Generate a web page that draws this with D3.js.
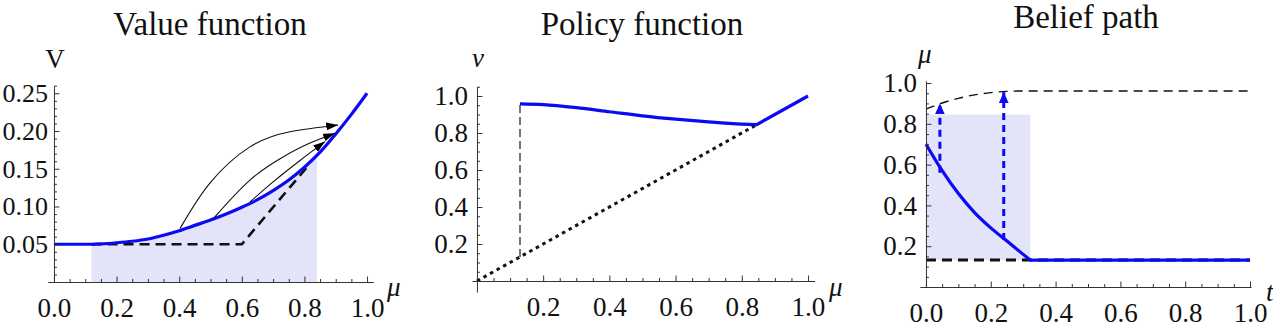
<!DOCTYPE html>
<html>
<head>
<meta charset="utf-8">
<script src="https://cdn.jsdelivr.net/npm/d3@7"></script>
<style>
  body { margin: 0; background: #fff; }
  svg { display: block; font-family: 'Liberation Serif', 'Times New Roman', serif; }
  .tick text { font-size: 27px; fill: #111; }
  .title { font-size: 33px; fill: #111; }
  .axis-label { font-size: 27px; fill: #111; }
</style>
</head>
<body>
<svg id="chart" width="1273" height="335"></svg>
<script>
// ---- Value function ----
const valueMu = [0, 0.1, 0.12, 0.15, 0.2, 0.25, 0.3, 0.35, 0.4, 0.45, 0.5, 0.55, 0.6, 0.65, 0.7, 0.75, 0.8, 0.85, 0.9, 0.95, 1.0];
const valueV = [0.05, 0.05, 0.05, 0.0505, 0.052, 0.054, 0.057, 0.062, 0.068, 0.075, 0.082, 0.090, 0.099, 0.109, 0.121, 0.135, 0.152, 0.172, 0.196, 0.222, 0.25];
const valueShade = [0.12, 0.84];
const valueDashMu = [0.12, 0.6, 0.81];
const valueDashV = [0.05, 0.05, 0.153];
// curved arrows, points read along each arc
const arrowArcs = [
  { mu: [0.403, 0.498, 0.626, 0.754, 0.908], v: [0.071, 0.131, 0.179, 0.199, 0.208] },
  { mu: [0.509, 0.626, 0.733, 0.818, 0.898], v: [0.084, 0.135, 0.166, 0.184, 0.197] },
  { mu: [0.626, 0.701, 0.786, 0.866], v: [0.106, 0.133, 0.161, 0.186] }
];

// ---- Policy function ----
const policyMu = [0.13, 0.2, 0.3, 0.4, 0.5, 0.6, 0.7, 0.8, 0.845, 1.0];
const policyNu = [0.957, 0.953, 0.937, 0.915, 0.893, 0.875, 0.86, 0.848, 0.845, 1.0];
const diagEnd = 0.845;
const cutoffMu = 0.13;

// ---- Belief path ----
const beliefT = [0, 0.05, 0.1, 0.15, 0.2, 0.25, 0.3, 0.322, 1.0];
const beliefMu = [0.70, 0.57, 0.458, 0.365, 0.29, 0.225, 0.16, 0.132, 0.132];
const upperT = [0, 0.05, 0.1, 0.15, 0.2, 0.25, 0.3, 1.0];
const upperMu = [0.872, 0.902, 0.925, 0.942, 0.953, 0.959, 0.961, 0.961];
const lowerMu = 0.132;
const beliefShadeT = [0, 0.322];
const beliefShadeMu = [0.132, 0.845];
const jumpT = [0.043, 0.24];
const jumpFrom = [0.56, 0.23];
const jumpTo = [0.90, 0.955];

const blue = '#0a0af5';
const shade = '#e3e3fa';

const svg = d3.select('#chart');

const defs = svg.append('defs');
const addHead = (id, color, w, h) => {
  defs.append('marker')
    .attr('id', id)
    .attr('viewBox', `0 0 ${w} ${h}`)
    .attr('refX', w)
    .attr('refY', h / 2)
    .attr('markerWidth', w)
    .attr('markerHeight', h)
    .attr('markerUnits', 'userSpaceOnUse')
    .attr('orient', 'auto')
    .append('path')
      .attr('d', `M0,0L${w},${h / 2}L0,${h}Z`)
      .attr('fill', color);
};
addHead('head-black', '#000', 12, 8);
addHead('head-blue', blue, 11, 10);

const range = (a, b, s) => d3.range(Math.round(a / s), Math.round(b / s) + 1).map(i => +(i * s).toFixed(4));

// Mathematica style axes: crossing at 0, ticks pointing inward
const drawAxes = (g, props) => {
  const { xScale, yScale, xMajor, xMinor, yMajor, yMinor, xFmt, yFmt, yPad } = props;
  const x0 = xScale(0);
  const y0 = yScale(0);

  const notMajor = (list, majors) => list.filter(d => !majors.some(m => Math.abs(m - d) < 1e-6));

  const xg = g.append('g').attr('class', 'x-axis')
    .attr('transform', `translate(0,${y0})`)
    .style('color', '#333');
  xg.append('g')
    .call(d3.axisBottom(xScale).tickValues(notMajor(xMinor, xMajor)).tickSize(-3).tickFormat(''))
    .select('.domain').remove();
  xg.append('g')
    .call(d3.axisBottom(xScale).tickValues(xMajor).tickSizeInner(-5.5).tickSizeOuter(0)
      .tickPadding(16).tickFormat(xFmt))
    .attr('font-family', null).attr('font-size', null);

  const yg = g.append('g').attr('class', 'y-axis')
    .attr('transform', `translate(${x0},0)`)
    .style('color', '#333');
  yg.append('g')
    .call(d3.axisLeft(yScale).tickValues(notMajor(yMinor, yMajor)).tickSize(-3).tickFormat(''))
    .select('.domain').remove();
  yg.append('g')
    .call(d3.axisLeft(yScale).tickValues(yMajor).tickSizeInner(-5.5).tickSizeOuter(0)
      .tickPadding(yPad || 9).tickFormat(yFmt))
    .attr('font-family', null).attr('font-size', null);
  return yg;
};

const lineOf = (xs, ys, xScale, yScale, curve) => d3.line()
  .x((d, i) => xScale(xs[i]))
  .y((d, i) => yScale(ys[i]))
  .curve(curve || d3.curveLinear)(xs);

const addTitle = (text, x, y) => svg.append('text')
  .attr('class', 'title')
  .attr('x', x).attr('y', y)
  .attr('text-anchor', 'middle')
  .text(text);

const addLabel = (text, x, y, italic, anchor) => svg.append('text')
  .attr('class', 'axis-label')
  .attr('x', x).attr('y', y)
  .attr('text-anchor', anchor || 'start')
  .style('font-style', italic ? 'italic' : 'normal')
  .text(text);

// ================= Panel 1: Value function =================
{
  const xScale = d3.scaleLinear().domain([-0.02, 1.02]).range([47.7, 373.3]);
  const yScale = d3.scaleLinear().domain([0, 0.26]).range([282, 85.7]);
  const g = svg.append('g');

  defs.append('clipPath').attr('id', 'shade-clip')
    .append('rect')
      .attr('x', xScale(valueShade[0]))
      .attr('y', 0)
      .attr('width', xScale(valueShade[1]) - xScale(valueShade[0]))
      .attr('height', 335);

  const area = d3.area()
    .x((d, i) => xScale(valueMu[i]))
    .y0(yScale(0))
    .y1((d, i) => yScale(valueV[i]))
    .curve(d3.curveMonotoneX);
  g.append('path')
    .attr('d', area(valueMu))
    .attr('fill', shade)
    .attr('clip-path', 'url(#shade-clip)');

  g.append('path')
    .attr('d', lineOf(valueDashMu, valueDashV, xScale, yScale))
    .attr('fill', 'none')
    .attr('stroke', '#111')
    .attr('stroke-width', 2.6)
    .attr('stroke-dasharray', '10,6');

  g.append('path')
    .attr('d', lineOf(valueMu, valueV, xScale, yScale, d3.curveMonotoneX))
    .attr('fill', 'none')
    .attr('stroke', blue)
    .attr('stroke-width', 3.2);

  g.selectAll('.arc').data(arrowArcs).enter()
    .append('path')
      .attr('class', 'arc')
      .attr('d', d => lineOf(d.mu, d.v, xScale, yScale, d3.curveNatural))
      .attr('fill', 'none')
      .attr('stroke', '#111')
      .attr('stroke-width', 1.1)
      .attr('marker-end', 'url(#head-black)');

  const yg = drawAxes(g, {
    xScale, yScale,
    xMajor: range(0, 1, 0.2), xMinor: range(0, 1, 0.05),
    yMajor: range(0.05, 0.25, 0.05), yMinor: range(0.01, 0.26, 0.01),
    xFmt: d3.format('.1f'), yFmt: d3.format('.2f'), yPad: 6
  });
  // the left column sits right at the page edge
  yg.selectAll('.tick text').style('font-size', '26px');

  addTitle('Value function', 210, 35);
  addLabel('V', 55, 68, false, 'middle');
  addLabel('μ', 387, 296, true);
}

// ================= Panel 2: Policy function =================
{
  const xScale = d3.scaleLinear().domain([-0.015, 1.02]).range([472, 814.6]);
  const yScale = d3.scaleLinear().domain([-0.06, 1.05]).range([292.1, 86.75]);
  const g = svg.append('g');

  g.append('path')
    .attr('d', lineOf([0, diagEnd], [0, diagEnd], xScale, yScale))
    .attr('fill', 'none')
    .attr('stroke', '#111')
    .attr('stroke-width', 3)
    .attr('stroke-dasharray', '3.5,4');

  g.append('path')
    .attr('d', lineOf([cutoffMu, cutoffMu], [cutoffMu, policyNu[0]], xScale, yScale))
    .attr('fill', 'none')
    .attr('stroke', '#777')
    .attr('stroke-width', 2)
    .attr('stroke-dasharray', '8,4');

  const n = policyMu.length;
  g.append('path')
    .attr('d', lineOf(policyMu.slice(0, n - 1), policyNu.slice(0, n - 1), xScale, yScale, d3.curveMonotoneX)
      + 'L' + xScale(policyMu[n - 1]) + ',' + yScale(policyNu[n - 1]))
    .attr('fill', 'none')
    .attr('stroke', blue)
    .attr('stroke-width', 3.2);

  drawAxes(g, {
    xScale, yScale,
    xMajor: range(0.2, 1, 0.2), xMinor: range(0.05, 1, 0.05),
    yMajor: range(0.2, 1, 0.2), yMinor: range(0.05, 1.05, 0.05),
    xFmt: d3.format('.1f'), yFmt: d3.format('.1f')
  });

  addTitle('Policy function', 642, 35);
  addLabel('ν', 478, 67, true, 'middle');
  addLabel('μ', 829, 296, true);
}

// ================= Panel 3: Belief path =================
{
  const xScale = d3.scaleLinear().domain([-0.019, 1.003]).range([919.8, 1251]);
  const yScale = d3.scaleLinear().domain([0, 1.01]).range([287, 81]);
  const g = svg.append('g');

  g.append('rect')
    .attr('x', xScale(beliefShadeT[0]))
    .attr('y', yScale(beliefShadeMu[1]))
    .attr('width', xScale(beliefShadeT[1]) - xScale(beliefShadeT[0]))
    .attr('height', yScale(beliefShadeMu[0]) - yScale(beliefShadeMu[1]))
    .attr('fill', shade);

  g.append('path')
    .attr('d', lineOf(upperT, upperMu, xScale, yScale, d3.curveMonotoneX))
    .attr('fill', 'none')
    .attr('stroke', '#111')
    .attr('stroke-width', 1.4)
    .attr('stroke-dasharray', '9,6');

  g.append('path')
    .attr('d', lineOf([0, 1], [lowerMu, lowerMu], xScale, yScale))
    .attr('fill', 'none')
    .attr('stroke', '#111')
    .attr('stroke-width', 3)
    .attr('stroke-dasharray', '10,6');

  const n = beliefT.length;
  g.append('path')
    .attr('d', lineOf(beliefT.slice(0, n - 1), beliefMu.slice(0, n - 1), xScale, yScale, d3.curveMonotoneX)
      + 'L' + xScale(beliefT[n - 1]) + ',' + yScale(beliefMu[n - 1]))
    .attr('fill', 'none')
    .attr('stroke', blue)
    .attr('stroke-width', 3.2);

  g.selectAll('.jump').data(jumpT).enter()
    .append('path')
      .attr('class', 'jump')
      .attr('d', (d, i) => lineOf([d, d], [jumpFrom[i], jumpTo[i]], xScale, yScale))
      .attr('fill', 'none')
      .attr('stroke', blue)
      .attr('stroke-width', 3)
      .attr('stroke-dasharray', '7,5')
      .attr('marker-end', 'url(#head-blue)');

  drawAxes(g, {
    xScale, yScale,
    xMajor: range(0, 1, 0.2), xMinor: range(0, 1, 0.05),
    yMajor: range(0.2, 1, 0.2), yMinor: range(0.05, 1, 0.05),
    xFmt: d3.format('.1f'), yFmt: d3.format('.1f')
  });

  addTitle('Belief path', 1086, 28);
  addLabel('μ', 918, 63, true);
  addLabel('t', 1266, 301, true);
}
</script>
</body>
</html>
